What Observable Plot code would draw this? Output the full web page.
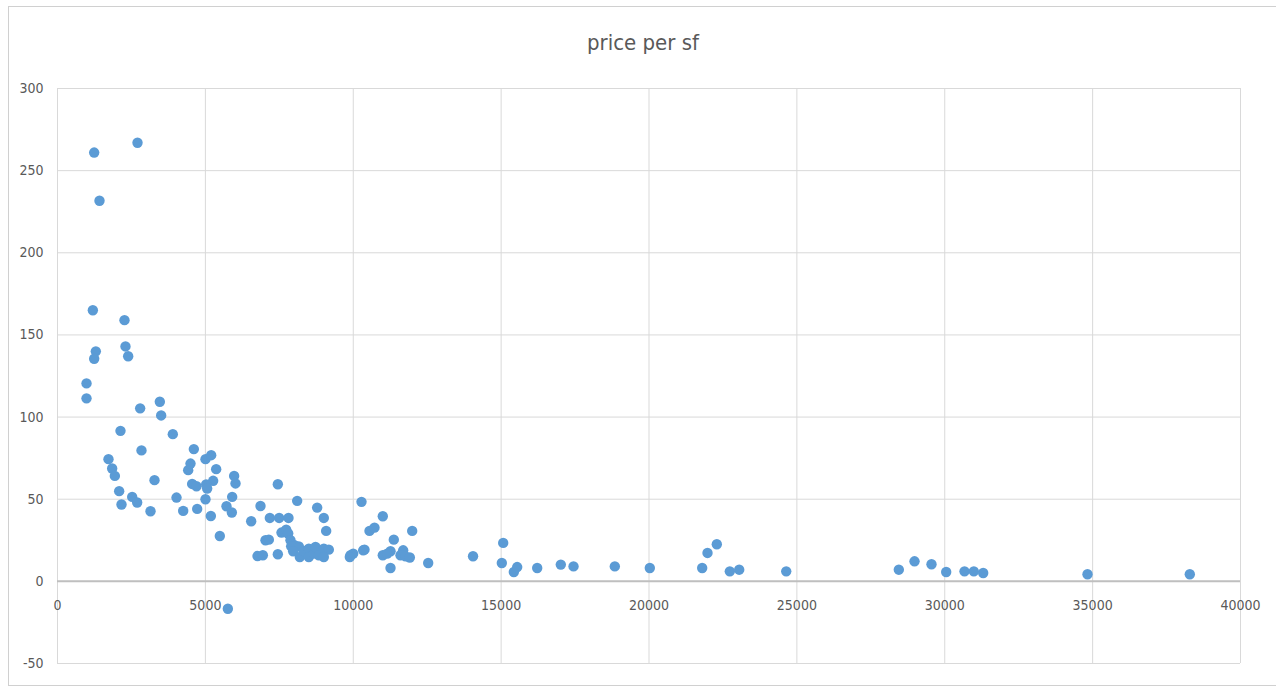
<!DOCTYPE html>
<html>
<head>
<meta charset="utf-8">
<script src="https://cdn.jsdelivr.net/npm/d3@7"></script>
<script src="https://cdn.jsdelivr.net/npm/@observablehq/plot@0.6"></script>
<style>
  html, body { margin: 0; padding: 0; background: #fff; }
  #wrap { position: relative; width: 1276px; height: 694px; overflow: hidden; font-family: "Liberation Sans Narrow", "DejaVu Sans Condensed", "Open Sans", sans-serif; }
  #frame { position: absolute; left: 8px; top: 6px; width: 1275px; height: 680px; border: 1px solid #d0d0d0; border-right: none; box-sizing: border-box; }
  #title { position: absolute; left: 0; width: 1286px; top: 30px; text-align: center; font-size: 22px; color: #595959; }
  #chart { position: absolute; left: 0; top: 0; }
</style>
</head>
<body>
<div id="wrap">
  <div id="frame"></div>
  <div id="chart"></div>
  <div id="title">price per sf</div>
</div>
<script>
const sqft = [981,981,1195,1240,1296,1240,1420,1724,1848,1939,2085,2130,2164,2265,2299,2390,2525,2694,2705,2795,2840,3145,3280,3460,3505,3899,4024,4250,4419,4497,4553,4610,4700,4723,5004,5196,5365,5263,5026,5060,5004,5185,5489,5973,6019,5906,5714,5895,5760,6549,6864,7180,7495,7811,7450,8104,8780,9005,9084,7033,7146,6763,6943,7450,7574,7732,7800,7878,8013,8160,7901,7969,8193,8328,8497,8497,8666,8724,8836,9005,9174,9005,9907,9998,9884,10279,10380,10336,10549,10718,10999,11371,11260,10999,11147,11260,11688,11598,11767,11913,11993,12534,14050,15070,15024,15430,15543,16220,17018,17448,18844,20027,21798,21978,22293,22733,23050,24640,28447,28978,29552,30049,30668,30983,31300,34827,38286];
const pricePerSf = [120.5,111.4,165,261,140,135.5,231.7,74.4,68.7,64.2,54.9,91.6,46.8,159,143,137,51.4,48,267,105.3,79.7,42.7,61.6,109.3,101,89.6,51,42.9,67.7,71.7,59.3,80.5,57.9,44.1,74.4,76.8,68.3,61.2,59,56.5,50,39.8,27.6,64.2,59.6,51.4,45.7,41.9,-16.7,36.6,45.9,38.6,38.6,38.6,59.1,49,44.9,38.6,30.7,25,25.4,15.4,15.9,16.5,29.7,31.5,29.1,25,22,21.3,21.3,18.3,14.8,18.5,19.9,14.8,16.9,20.9,15.9,19.9,19.3,14.8,15.9,16.9,14.8,48.4,19.3,18.9,30.7,32.7,39.6,25.4,18.3,15.9,16.9,8.1,18.9,15.9,15.2,14.5,30.7,11.2,15.3,23.4,11.2,5.7,8.7,8.1,10.2,9.1,9.1,8.1,8.1,17.3,22.6,6.1,7.1,6.1,7.1,12.2,10.4,5.7,6.1,6.1,5.1,4.3,4.3];
const xTicks = [0,5000,10000,15000,20000,25000,30000,35000,40000];
const xTickLabels = ["0","5000","10000","15000","20000","25000","30000","35000","40000"];
const yTicks = [-50,0,50,100,150,200,250,300];
const yTickLabels = ["-50","0","50","100","150","200","250","300"];

const data = sqft.map((x, i) => ({x, y: pricePerSf[i]}));
const xLab = xTicks.map((v, i) => ({v, t: xTickLabels[i]}));
const yLab = yTicks.map((v, i) => ({v, t: yTickLabels[i]}));

const chart = Plot.plot({
  width: 1276,
  height: 694,
  marginLeft: 57,
  marginRight: 36,
  marginTop: 88,
  marginBottom: 31,
  style: { fontFamily: '"Liberation Sans Narrow", "DejaVu Sans Condensed", sans-serif', fontSize: "14px", color: "#595959", background: "transparent", overflow: "visible" },
  x: { domain: [0, 40000], axis: null, label: null },
  y: { domain: [-50, 300], axis: null, label: null },
  marks: [
    Plot.gridX(xTicks, { stroke: "#d9d9d9", strokeOpacity: 1, strokeWidth: 1 }),
    Plot.gridY(yTicks, { stroke: "#d9d9d9", strokeOpacity: 1, strokeWidth: 1 }),
    Plot.ruleY([0], { stroke: "#bfbfbf", strokeWidth: 2 }),
    Plot.text(yLab, { x: 0, y: "v", dx: -14, text: "t", textAnchor: "end", fill: "#595959", fontSize: 14 }),
    Plot.text(xLab, { x: "v", y: 0, dy: 24, text: "t", fill: "#595959", fontSize: 14 }),
    Plot.dot(data, { x: "x", y: "y", r: 5.2, fill: "#5b9bd5", stroke: "none" })
  ]
});
document.getElementById("chart").appendChild(chart);
</script>
</body>
</html>
